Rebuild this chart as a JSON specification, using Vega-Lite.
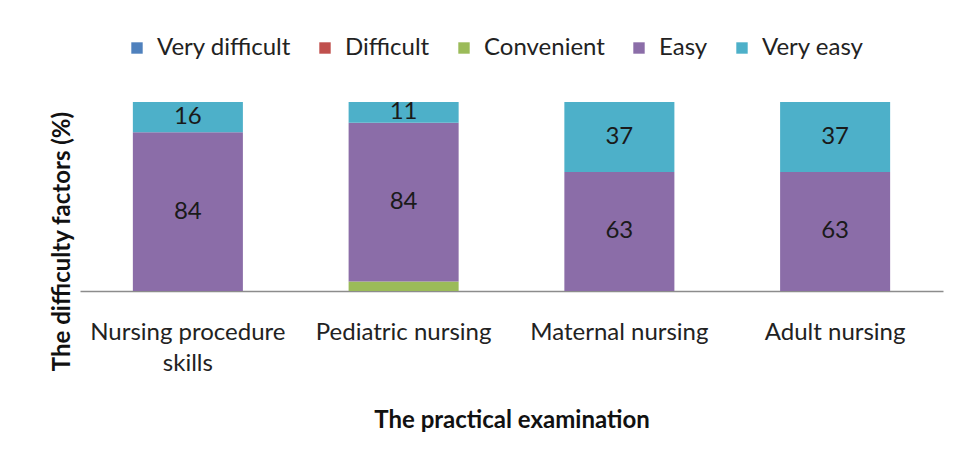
{
  "$schema": "https://vega.github.io/schema/vega-lite/v6.json",
  "width": 863,
  "height": 189,
  "autosize": "none",
  "padding": {"left": 80, "top": 102, "right": 17, "bottom": 172},
  "background": "white",
  "config": {"view": {"stroke": null}, "font": "Lato"},
  "data": {
    "values": [
      {"exam": "Nursing procedure skills", "level": "Very difficult", "value": 0},
      {"exam": "Nursing procedure skills", "level": "Difficult", "value": 0},
      {"exam": "Nursing procedure skills", "level": "Convenient", "value": 0},
      {"exam": "Nursing procedure skills", "level": "Easy", "value": 84},
      {"exam": "Nursing procedure skills", "level": "Very easy", "value": 16},
      {"exam": "Pediatric nursing", "level": "Very difficult", "value": 0},
      {"exam": "Pediatric nursing", "level": "Difficult", "value": 0},
      {"exam": "Pediatric nursing", "level": "Convenient", "value": 5},
      {"exam": "Pediatric nursing", "level": "Easy", "value": 84},
      {"exam": "Pediatric nursing", "level": "Very easy", "value": 11},
      {"exam": "Maternal nursing", "level": "Very difficult", "value": 0},
      {"exam": "Maternal nursing", "level": "Difficult", "value": 0},
      {"exam": "Maternal nursing", "level": "Convenient", "value": 0},
      {"exam": "Maternal nursing", "level": "Easy", "value": 63},
      {"exam": "Maternal nursing", "level": "Very easy", "value": 37},
      {"exam": "Adult nursing", "level": "Very difficult", "value": 0},
      {"exam": "Adult nursing", "level": "Difficult", "value": 0},
      {"exam": "Adult nursing", "level": "Convenient", "value": 0},
      {"exam": "Adult nursing", "level": "Easy", "value": 63},
      {"exam": "Adult nursing", "level": "Very easy", "value": 37}
    ]
  },
  "encoding": {
    "x": {
      "field": "exam",
      "type": "nominal",
      "sort": ["Nursing procedure skills", "Pediatric nursing", "Maternal nursing", "Adult nursing"],
      "scale": {"paddingInner": 0.49, "paddingOuter": 0.245},
      "axis": {
        "title": "The practical examination",
        "labelAngle": 0,
        "ticks": false,
        "domainColor": "#8c8c8c",
        "domainWidth": 1.5,
        "labelPadding": 29,
        "labelFontSize": 24,
        "labelColor": "#222222",
        "labelLineHeight": 31,
        "labelLimit": 300,
        "labelExpr": "datum.label == 'Nursing procedure skills' ? ['Nursing procedure', 'skills'] : datum.label",
        "titleFontSize": 24,
        "titleFontWeight": "bold",
        "titleColor": "#111111",
        "titlePadding": 33
      }
    },
    "y": {
      "field": "value",
      "type": "quantitative",
      "scale": {"domain": [0, 100]},
      "axis": {
        "title": "The difficulty factors (%)",
        "labels": false,
        "ticks": false,
        "domain": false,
        "grid": false,
        "titleFontSize": 24,
        "titleFontWeight": "bold",
        "titleColor": "#111111",
        "titleX": -18,
        "titleY": 139,
        "titleBaseline": "middle",
        "titleAlign": "center",
        "titleAngle": -90
      }
    }
  },
  "layer": [
    {
      "mark": {"type": "bar"},
      "encoding": {
        "y": {"field": "value", "type": "quantitative", "stack": "zero"},
        "order": {"field": "level", "sort": "ascending"},
        "color": {
          "field": "level",
          "type": "nominal",
          "scale": {
            "domain": ["Very difficult", "Difficult", "Convenient", "Easy", "Very easy"],
            "range": ["#4F81BD", "#C0504D", "#9BBB59", "#8B6DA8", "#4DB0C9"]
          },
          "legend": {
            "title": null,
            "orient": "none",
            "direction": "horizontal",
            "columns": 5,
            "legendX": 45,
            "legendY": -66,
            "symbolType": "square",
            "symbolSize": 130,
            "symbolStrokeWidth": 0,
            "labelFontSize": 24,
            "labelColor": "#222222",
            "labelOffset": 8,
            "columnPadding": 22,
            "labelLimit": 300
          }
        }
      }
    },
    {
      "transform": [
        {"stack": "value", "groupby": ["exam"], "sort": [{"field": "level", "order": "ascending"}], "as": ["v0", "v1"]},
        {"filter": "datum.value >= 10"},
        {"fold": ["v0", "v1"], "as": ["edge", "pos"]}
      ],
      "mark": {"type": "text", "baseline": "middle", "fontSize": 24, "color": "#1a1a1a"},
      "encoding": {
        "y": {"aggregate": "mean", "field": "pos", "type": "quantitative", "stack": null},
        "detail": {"field": "level", "type": "nominal"},
        "text": {"field": "value", "type": "quantitative"}
      }
    }
  ]
}
